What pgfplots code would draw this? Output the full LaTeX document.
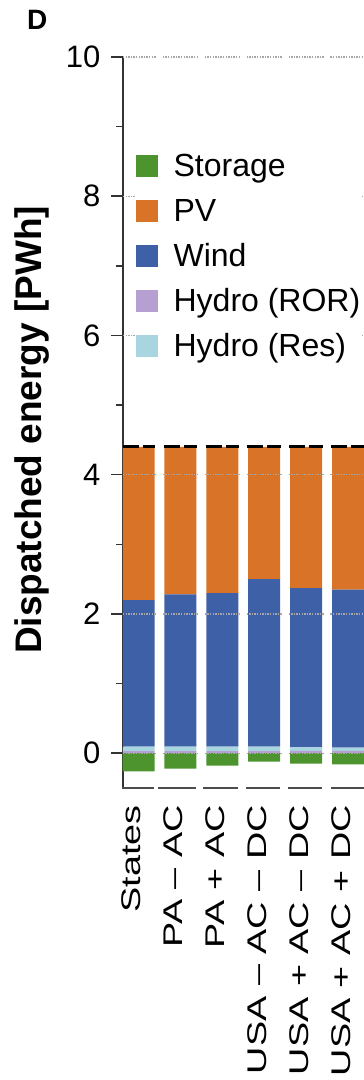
\documentclass[border=0pt]{standalone}
\usepackage{pgfplots}
\pgfplotsset{compat=1.18}
\usepackage{fontspec}
\setmainfont{Liberation Sans}
\usepackage{graphicx}
\definecolor{cgreen}{RGB}{77,148,46}
\definecolor{corange}{RGB}{217,115,40}
\definecolor{cblue}{RGB}{62,96,166}
\definecolor{cpurple}{RGB}{182,160,210}
\definecolor{clblue}{RGB}{168,213,224}
\newcommand{\xl}[1]{\scalebox{1.4}[1]{#1}}
\begin{document}
\begin{tikzpicture}[x=1pt,y=1pt]
\path[use as bounding box] (0,0) rectangle (364,1080);
\node[anchor=north west, inner sep=0pt, font=\fontsize{28}{32}\selectfont\bfseries] at (27,1070) {D};
\begin{axis}[
  at={(123pt,292pt)}, anchor=south west,
  scale only axis, width=241pt, height=731pt,
  xmin=-0.37, xmax=5.38, ymin=-0.5, ymax=10,
  ybar stacked, bar width=32pt,
  axis y line*=left, axis x line*=bottom,
  x axis line style={draw=none},
  y axis line style={-, line width=2pt, draw=black!80},
  ytick={0,2,4,6,8,10}, minor ytick={1,3,5,7,9},
  tick align=outside, major tick length=12pt, minor tick length=7pt,
  ytick style={line width=1.5pt, draw=black!80},
  minor tick style={line width=1.5pt, draw=black!80},
  xtick={0,1,2,3,4,5}, xtick style={draw=none},
  xticklabels={\xl{States},\xl{PA – AC},\xl{PA + AC},\xl{USA – AC – DC},\xl{USA + AC – DC},\xl{USA + AC + DC}},
  xticklabel style={rotate=90, anchor=base east, inner sep=0pt, xshift=-5pt, yshift=-2pt, font=\fontsize{27}{32}\selectfont},
  yticklabel style={font=\fontsize{31}{36}\selectfont, xshift=-7pt},
  /pgf/number format/assume math mode=true,
  ylabel={Dispatched energy [PWh]},
  ylabel style={at={(axis description cs:-0.378,0.49)}, anchor=center, font=\fontsize{37}{44}\selectfont\bfseries},
]
% Hydro (ROR)
\addplot[fill=cpurple, draw=none] coordinates {(0,0.03) (1,0.03) (2,0.03) (3,0.03) (4,0.035) (5,0.035)};
% Hydro (Res)
\addplot[fill=clblue, draw=none] coordinates {(0,0.065) (1,0.065) (2,0.065) (3,0.065) (4,0.05) (5,0.045)};
% Wind
\addplot[fill=cblue, draw=none] coordinates {(0,2.105) (1,2.185) (2,2.205) (3,2.405) (4,2.285) (5,2.27)};
% PV
\addplot[fill=corange, draw=none] coordinates {(0,2.20) (1,2.12) (2,2.10) (3,1.90) (4,2.03) (5,2.05)};
\end{axis}
\begin{axis}[
  at={(123pt,292pt)}, anchor=south west,
  scale only axis, width=241pt, height=731pt,
  xmin=-0.37, xmax=5.38, ymin=-0.5, ymax=10,
  hide axis, clip=false, unbounded coords=jump,
  legend style={at={(axis description cs:0.054,0.868)}, anchor=north west,
    draw=none, fill=white, inner sep=0pt, row sep=15pt, column sep=0pt,
    font=\fontsize{32}{38}\selectfont,
    nodes={inner sep=0pt, text height=23pt, text depth=7pt, anchor=base west}},
  legend cell align=left,
]
\addlegendimage{legend image code/.code={\fill[cgreen] (0pt,0.5pt) rectangle (21pt,21.5pt); \path (37pt,0pt);}}
\addlegendentry{Storage}
\addlegendimage{legend image code/.code={\fill[corange] (0pt,0.5pt) rectangle (21pt,21.5pt); \path (37pt,0pt);}}
\addlegendentry{PV}
\addlegendimage{legend image code/.code={\fill[cblue] (0pt,0.5pt) rectangle (21pt,21.5pt); \path (37pt,0pt);}}
\addlegendentry{Wind}
\addlegendimage{legend image code/.code={\fill[cpurple] (0pt,0.5pt) rectangle (21pt,21.5pt); \path (37pt,0pt);}}
\addlegendentry{Hydro (ROR)}
\addlegendimage{legend image code/.code={\fill[clblue] (0pt,0.5pt) rectangle (21pt,21.5pt); \path (37pt,0pt);}}
\addlegendentry{Hydro (Res)}
% Storage (negative)
\addplot[forget plot, ybar, bar width=32pt, bar shift=0pt, fill=cgreen, draw=none] coordinates {(0,-0.26) (1,-0.22) (2,-0.18) (3,-0.12) (4,-0.15) (5,-0.16)};
% dotted grid segments
\pgfplotsset{gridseg/.style={forget plot, draw=black!35, line width=1.3pt, dash pattern=on 1.4pt off 1.2pt}}
\addplot[gridseg] coordinates {(-0.37,0) (0.42,0) (0.5,nan) (0.58,0) (1.42,0) (1.5,nan) (1.58,0) (2.42,0) (2.5,nan) (2.58,0) (3.42,0) (3.5,nan) (3.58,0) (4.42,0) (4.5,nan) (4.58,0) (5.42,0)};
\addplot[gridseg] coordinates {(-0.37,2) (0.42,2) (0.5,nan) (0.58,2) (1.42,2) (1.5,nan) (1.58,2) (2.42,2) (2.5,nan) (2.58,2) (3.42,2) (3.5,nan) (3.58,2) (4.42,2) (4.5,nan) (4.58,2) (5.42,2)};
\addplot[gridseg] coordinates {(-0.37,4) (0.42,4) (0.5,nan) (0.58,4) (1.42,4) (1.5,nan) (1.58,4) (2.42,4) (2.5,nan) (2.58,4) (3.42,4) (3.5,nan) (3.58,4) (4.42,4) (4.5,nan) (4.58,4) (5.42,4)};
\addplot[gridseg] coordinates {(-0.37,6) (0.42,6) (0.5,nan) (0.58,6) (1.42,6) (1.5,nan) (1.58,6) (2.42,6) (2.5,nan) (2.58,6) (3.42,6) (3.5,nan) (3.58,6) (4.42,6) (4.5,nan) (4.58,6) (5.42,6)};
\addplot[gridseg] coordinates {(-0.37,8) (0.42,8) (0.5,nan) (0.58,8) (1.42,8) (1.5,nan) (1.58,8) (2.42,8) (2.5,nan) (2.58,8) (3.42,8) (3.5,nan) (3.58,8) (4.42,8) (4.5,nan) (4.58,8) (5.42,8)};
\addplot[gridseg] coordinates {(-0.37,10) (0.42,10) (0.5,nan) (0.58,10) (1.42,10) (1.5,nan) (1.58,10) (2.42,10) (2.5,nan) (2.58,10) (3.42,10) (3.5,nan) (3.58,10) (4.42,10) (4.5,nan) (4.58,10) (5.42,10)};
% demand dashed segments
\addplot[forget plot, draw=black, line width=2.8pt, dash pattern=on 16pt off 4pt] coordinates {(-0.37,4.40) (0.40,4.40) (0.5,nan) (0.60,4.40) (1.40,4.40) (1.5,nan) (1.60,4.40) (2.40,4.40) (2.5,nan) (2.60,4.40) (3.40,4.40) (3.5,nan) (3.60,4.40) (4.40,4.40) (4.5,nan) (4.60,4.40) (5.40,4.40)};
% x axis segments
\addplot[forget plot, draw=black!70, line width=2pt] coordinates {(-0.395,-0.5) (0.37,-0.5) (0.42,nan) (0.47,-0.5) (1.37,-0.5) (1.46,nan) (1.55,-0.5) (2.37,-0.5) (2.47,nan) (2.57,-0.5) (3.38,-0.5) (3.47,nan) (3.57,-0.5) (4.38,-0.5) (4.49,nan) (4.60,-0.5) (5.37,-0.5)};
\end{axis}
\end{tikzpicture}
\end{document}
